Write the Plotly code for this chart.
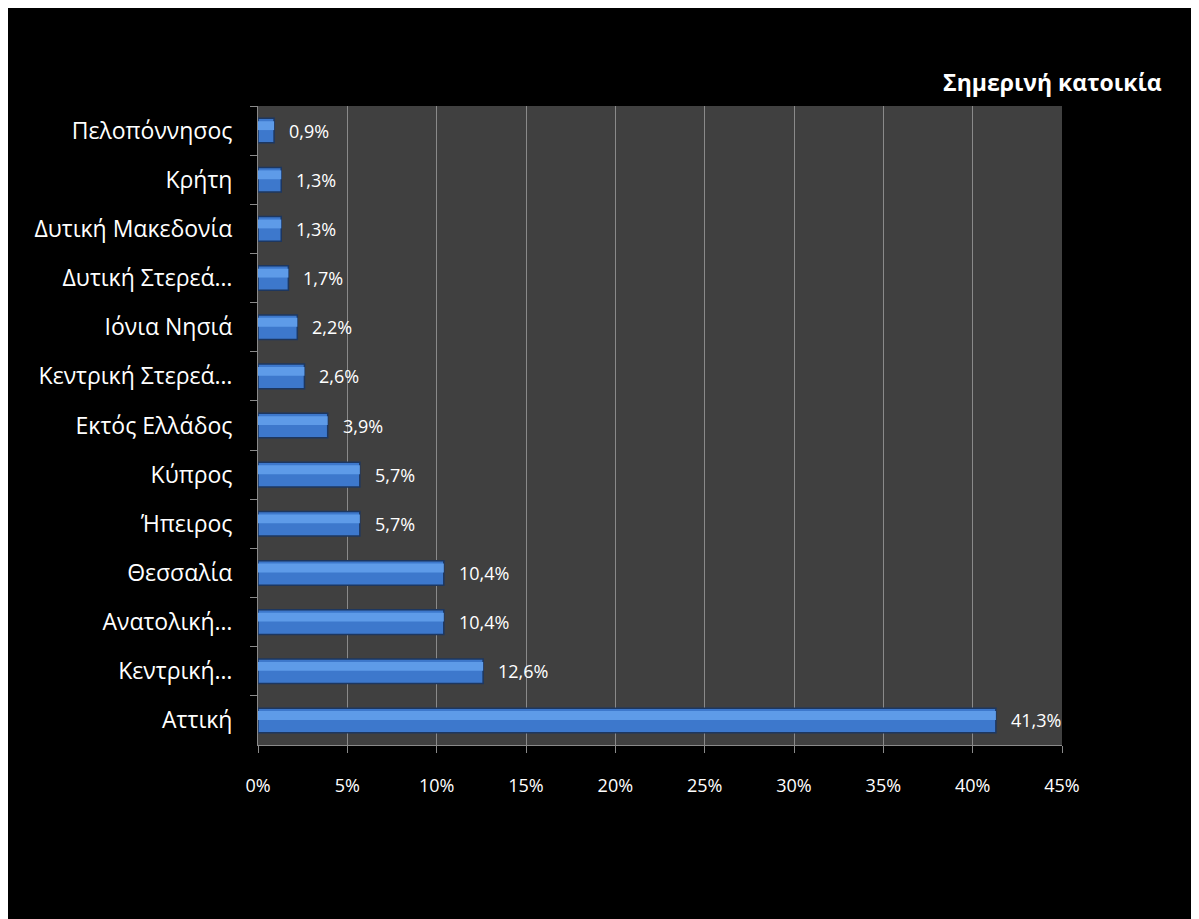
import plotly.graph_objects as go

categories = ["Πελοπόννησος", "Κρήτη", "Δυτική Μακεδονία", "Δυτική Στερεά…",
              "Ιόνια Νησιά", "Κεντρική Στερεά…", "Εκτός Ελλάδος", "Κύπρος",
              "Ήπειρος", "Θεσσαλία", "Ανατολική…", "Κεντρική…", "Αττική"]
values = [0.9, 1.3, 1.3, 1.7, 2.2, 2.6, 3.9, 5.7, 5.7, 10.4, 10.4, 12.6, 41.3]
labels = ["0,9%", "1,3%", "1,3%", "1,7%", "2,2%", "2,6%", "3,9%", "5,7%",
          "5,7%", "10,4%", "10,4%", "12,6%", "41,3%"]
tick_vals = [0, 5, 10, 15, 20, 25, 30, 35, 40, 45]
tick_text = ["0%", "5%", "10%", "15%", "20%", "25%", "30%", "35%", "40%", "45%"]
title_text = "Σημερινή κατοικία"

FONT = "Open Sans"

fig = go.Figure()
fig.add_trace(go.Bar(
    x=values, y=categories, orientation="h", width=0.5,
    marker=dict(color="#3d78cc", line=dict(color="#1d3760", width=1.5)),
    hoverinfo="skip", showlegend=False,
))
# highlight strip for bevel look
fig.add_trace(go.Bar(
    x=values, y=categories, orientation="h", width=0.18, offset=-0.19,
    marker=dict(color="#5e9be8", line=dict(width=0)),
    hoverinfo="skip", showlegend=False,
))

for c, v, t in zip(categories, values, labels):
    fig.add_annotation(x=v, y=c, text=t, showarrow=False, xanchor="left",
                       xshift=13, font=dict(family=FONT, size=18, color="white"))

fig.add_annotation(x=1, xref="paper", xanchor="right", y=1, yref="paper",
                   yanchor="bottom", yshift=6, xshift=102,
                   text="<b>" + title_text + "</b>", showarrow=False,
                   font=dict(family=FONT, size=23, color="white"))

fig.update_layout(
    width=1191, height=911,
    paper_bgcolor="black", plot_bgcolor="#404040",
    margin=dict(l=250, r=137, t=98, b=174),
    barmode="overlay",
    font=dict(family=FONT, color="white"),
    xaxis=dict(range=[0, 45], tickvals=tick_vals, ticktext=tick_text,
               showgrid=True, gridcolor="#8a8a8a", gridwidth=1,
               showline=True, linecolor="#8a8a8a", linewidth=1,
               ticks="outside", ticklen=7, tickcolor="#8a8a8a",
               tickfont=dict(family=FONT, size=18, color="white"),
               ticklabelstandoff=17, zeroline=False, fixedrange=True),
    yaxis=dict(autorange="reversed", showgrid=False,
               showline=True, linecolor="#8a8a8a", linewidth=1,
               ticks="outside", ticklen=7, tickcolor="#8a8a8a",
               tickson="boundaries",
               tickfont=dict(family=FONT, size=23, color="white"),
               ticklabelstandoff=20),
)

fig.write_html("out.html")
